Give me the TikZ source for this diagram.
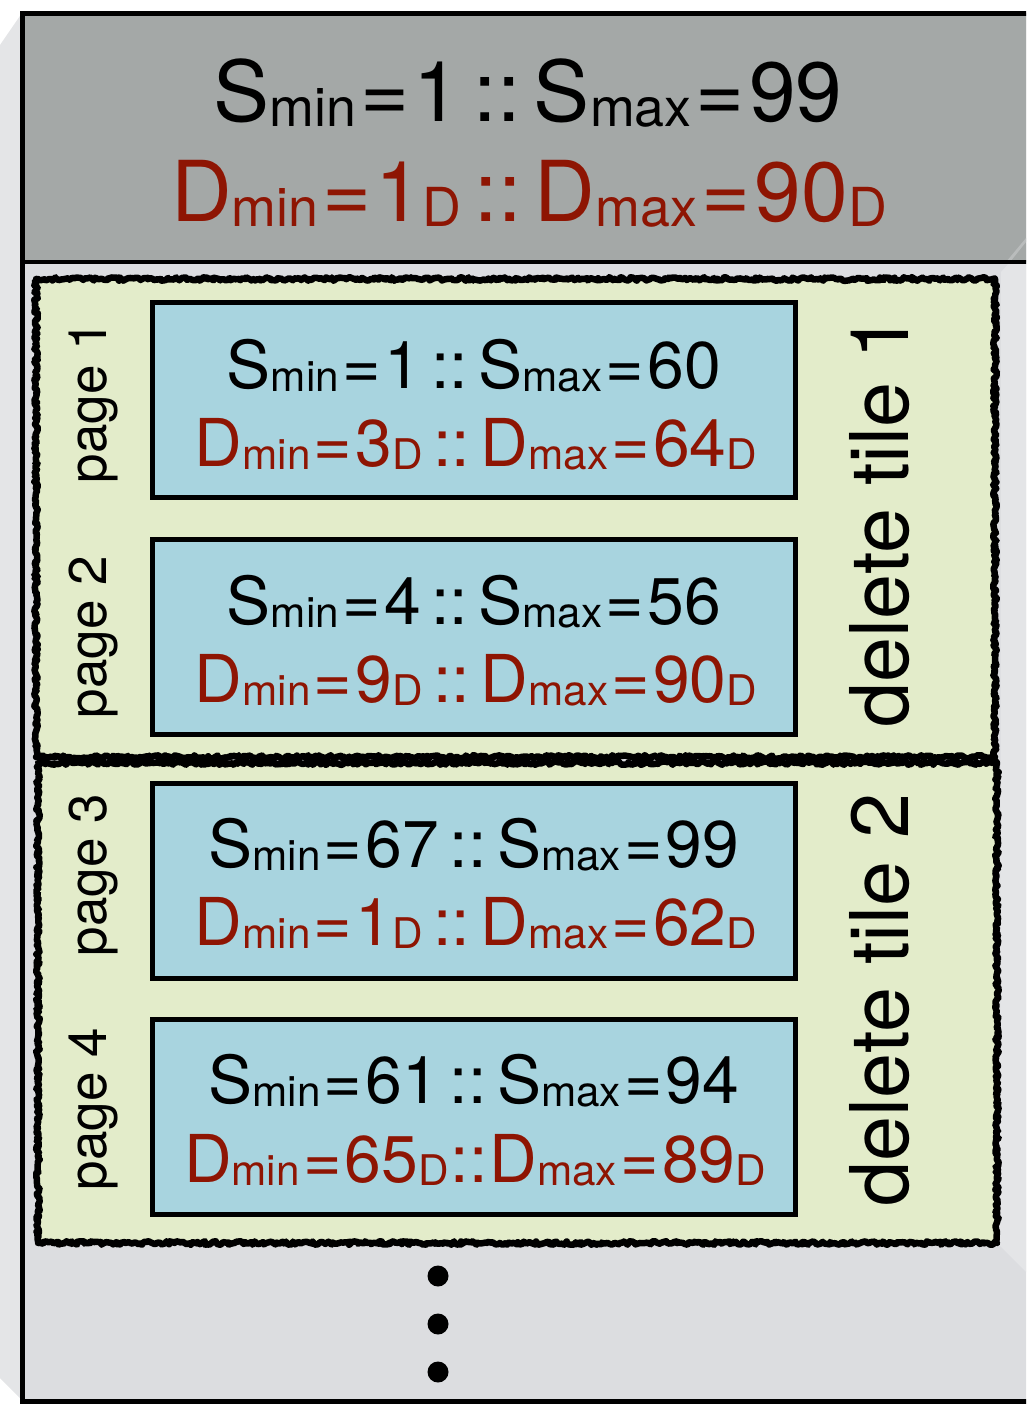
\documentclass[tikz,border=0pt]{standalone}
\usepackage{fontspec}
\usepackage{graphicx}
\setmainfont{TeX Gyre Heros}
\usetikzlibrary{decorations.pathmorphing}
\definecolor{hdrgrey}{HTML}{A4A8A7}
\definecolor{hdrshine}{HTML}{B9BCBC}
\definecolor{bodygrey}{HTML}{DCDDE0}
\definecolor{sidegrey}{HTML}{E4E5E7}
\definecolor{tilegreen}{HTML}{E3ECCA}
\definecolor{pageblue}{HTML}{A8D4DF}
\definecolor{dred}{HTML}{8E1503}
\newcommand{\lsub}[1]{\raisebox{-0.05em}{\scalebox{0.64}{#1}}}
\newcommand{\myeq}{\kern0.05em=\kern0.05em}
\newcommand{\mysep}{\hspace{0.16em}::\hspace{0.16em}}
\tikzset{
  hdrtxt/.style={font=\fontsize{84}{90}\selectfont, anchor=base, inner sep=0pt},
  boxtxt/.style={font=\fontsize{66}{72}\selectfont, anchor=base, inner sep=0pt},
  redtxt/.style={text=dred},
  pagebox/.style={draw=black, line width=5pt, fill=pageblue, minimum width=643pt, minimum height=195pt, inner sep=0pt, outer sep=0pt},
  tilebox/.style={fill=tilegreen, minimum width=959pt, inner sep=0pt, outer sep=0pt},
  roughline/.style={draw=black, line width=6.5pt, line join=round, decorate, decoration={random steps, segment length=2pt, amplitude=1.8pt}},
  pagelbl/.style={rotate=90, font=\fontsize{53}{56}\selectfont, inner sep=0pt},
  tilelbl/.style={rotate=90, font=\fontsize{81}{84}\selectfont, inner sep=0pt},
  dot/.style={circle, fill=black, minimum size=21pt, inner sep=0pt}
}
\begin{document}
\begin{tikzpicture}[x=1pt, y=-1pt]
\useasboundingbox (0,0) rectangle (1026,1404);
\clip (0,0) rectangle (1026,1404);
% left side face
\fill[sidegrey] (0,45) -- (22,13) -- (22,1400) -- (0,1378) -- cycle;
% body and header
\fill[bodygrey] (22,13) rectangle (1040,1404);
\fill[sidegrey] (1001,272) -- (1026,244) -- (1026,1272) -- (1000,1246) -- cycle;
\fill[hdrgrey] (22,13) rectangle (1040,262);
\fill[hdrshine] (1006,262) -- (1026,238) -- (1026,242) -- (1010,262) -- cycle;
% frame
\draw[line width=5pt] (22,1404) -- (22,14) -- (1040,14);
\draw[line width=4.5pt] (22,262) -- (1040,262);
\draw[line width=5pt] (20,1401) -- (1040,1401);

% header text
\node[hdrtxt] (h1) at (528,122) {S\lsub{min}\myeq 1\mysep S\lsub{max}\myeq 99};
\node[hdrtxt, redtxt] (h2) at (529,222) {D\lsub{min}\myeq 1\lsub{D}\mysep D\lsub{max}\myeq 90\lsub{D}};

% delete tiles
\node[tilebox, minimum height=478pt] (t1) at (515.5,518) {};
\node[tilebox, minimum height=480pt] (t2) at (517.5,1003) {};
\path[roughline] (t1.north west) rectangle (t1.south east);
\path[roughline] (t2.north west) rectangle (t2.south east);

% pages
\node[pagebox] (b1) at (474,400) {};
\node[pagebox] (b2) at (474,637) {};
\node[pagebox] (b3) at (474,880.5) {};
\node[pagebox] (b4) at (474,1117) {};

\node[boxtxt] (b1s) at (474,388) {S\lsub{min}\myeq 1\mysep S\lsub{max}\myeq 60};
\node[boxtxt, redtxt] (b1d) at (476,466) {D\lsub{min}\myeq 3\lsub{D}\mysep D\lsub{max}\myeq 64\lsub{D}};
\node[boxtxt] (b2s) at (474,624) {S\lsub{min}\myeq 4\mysep S\lsub{max}\myeq 56};
\node[boxtxt, redtxt] (b2d) at (476,702) {D\lsub{min}\myeq 9\lsub{D}\mysep D\lsub{max}\myeq 90\lsub{D}};
\node[boxtxt] (b3s) at (474,867) {S\lsub{min}\myeq 67\mysep S\lsub{max}\myeq 99};
\node[boxtxt, redtxt] (b3d) at (476,945) {D\lsub{min}\myeq 1\lsub{D}\mysep D\lsub{max}\myeq 62\lsub{D}};
\node[boxtxt] (b4s) at (474,1103) {S\lsub{min}\myeq 61\mysep S\lsub{max}\myeq 94};
\node[boxtxt, redtxt] (b4d) at (475,1182) {D\lsub{min}\myeq 65\lsub{D}\kern0.03em::\kern0.03em D\lsub{max}\myeq 89\lsub{D}};

% labels
\node[pagelbl] (l1) at (93,402) {page 1};
\node[pagelbl] (l2) at (93,637) {page 2};
\node[pagelbl] (l3) at (93,875) {page 3};
\node[pagelbl] (l4) at (93,1109) {page 4};
\node[tilelbl] (d1) at (880,521) {delete tile 1};
\node[tilelbl] (d2) at (880,1000) {delete tile 2};

% continuation dots
\node[dot] (c1) at (438,1276) {};
\node[dot] (c2) at (438,1324) {};
\node[dot] (c3) at (438,1372) {};
\end{tikzpicture}
\end{document}
